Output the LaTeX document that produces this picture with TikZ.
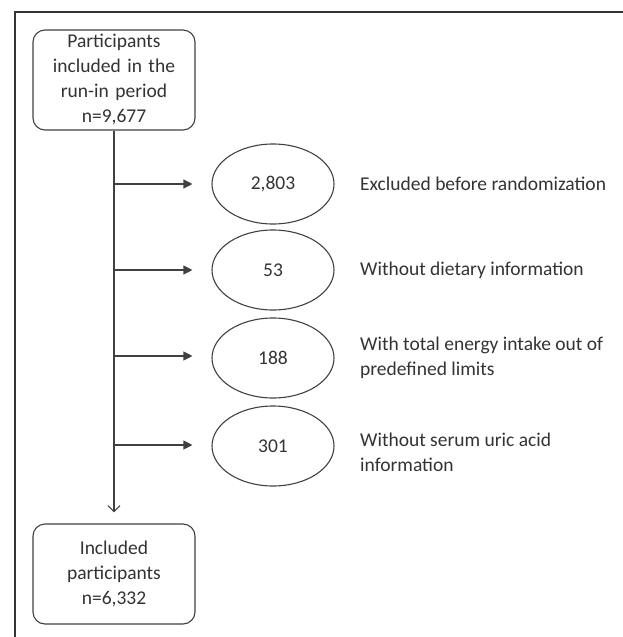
\documentclass[tikz,border=0pt]{standalone}
\usepackage{fontspec}
\setmainfont{Carlito}
\usepackage{tikz}
\usetikzlibrary{shapes.geometric,arrows.meta}

\tikzset{
  flowbox/.style={draw=black!75, line width=1.1pt, rounded corners=12pt, minimum width=162pt,
    minimum height=100pt, text width=158pt, align=center, inner sep=0pt,
    font=\fontsize{19.5}{25}\selectfont, text=black!80},
  countoval/.style={draw=black!75, line width=1.1pt, ellipse, minimum width=122pt,
    minimum height=80pt, inner sep=0pt, font=\fontsize{19.5}{25}\selectfont, text=black!80},
  reason/.style={anchor=west, align=left, inner sep=0pt,
    font=\fontsize{19.5}{25}\selectfont, text=black!80},
}

\begin{document}
\begin{tikzpicture}[x=1pt,y=-1pt]
  \useasboundingbox (0,0) rectangle (623,637);
  % frame
  \draw[black!80,line width=1.8pt] (15,637) -- (15,12) -- (623,12);

  \node[flowbox] (start) at (114,80) {Participants\\included in the\\run-in period\\n=9,677};
  \node[flowbox] (final) at (114,574) {Included\\participants\\n=6,332};

  \node[countoval] (excl1) at (273,184) {2,803};
  \node[countoval] (excl2) at (273,270) {53};
  \node[countoval] (excl3) at (273,358) {188};
  \node[countoval] (excl4) at (273,446) {301};

  \node[reason] (lab1) at (360,184) {Excluded before randomization};
  \node[reason] (lab2) at (360,270) {Without dietary information};
  \node[reason] (lab3) at (360,358) {With total energy intake out of\\predefined limits};
  \node[reason] (lab4) at (360,452) {Without serum uric acid\\information};

  \draw[-{Straight Barb[length=6pt,width=12pt]},line width=1.1pt,black!75,shorten >=11pt]
    (start) -- (final);
  \foreach \i/\y in {1/184,2/270,3/356,4/445} {
    \coordinate (b\i) at (114,\y);
    \draw[-{Triangle[length=9pt,width=9pt]},line width=1.1pt,black!75,shorten >=19pt]
      (b\i) -- (excl\i.west |- b\i);
  }
\end{tikzpicture}
\end{document}
